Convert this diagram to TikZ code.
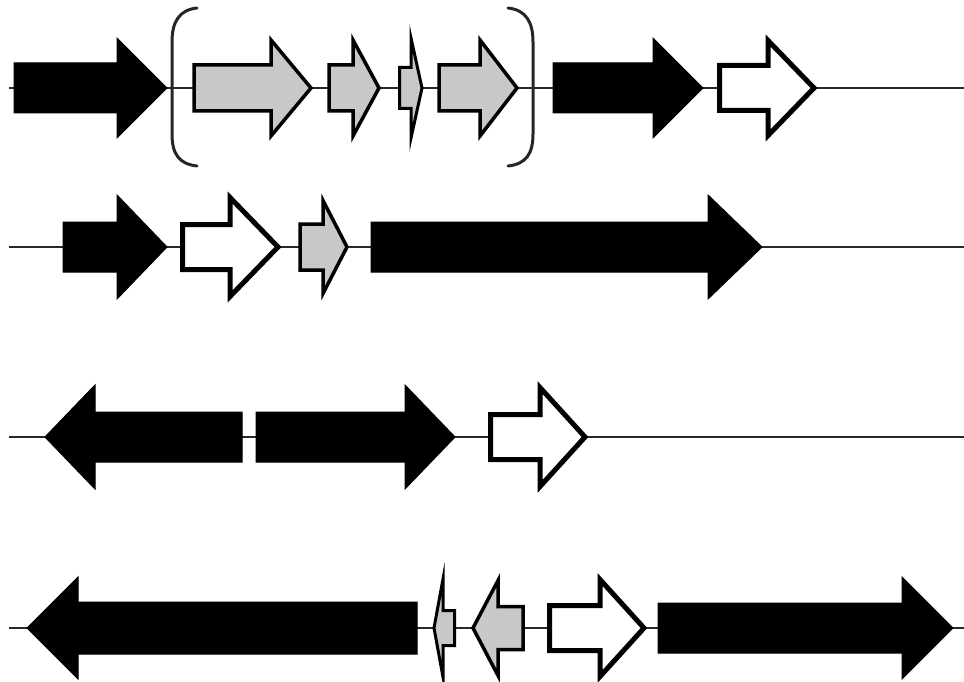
\documentclass[tikz,border=0pt]{standalone}
\usetikzlibrary{calc}
\definecolor{genegray}{RGB}{200,200,200}
\definecolor{backbone}{RGB}{40,40,40}
\tikzset{
  blk/.style={fill=black,draw=black,line width=1pt,line join=miter},
  wht/.style={fill=white,draw=black,line width=5pt,line join=miter},
  gry/.style={fill=genegray,draw=black,line width=3.5pt,line join=miter},
  gryspike/.style={fill=genegray,draw=black,line width=3pt,line join=miter,miter limit=12},
  bbone/.style={draw=backbone,line width=2.5pt},
  brack/.style={draw=black!85,line width=3pt,line cap=round}
}
% #1 body end, #2 head base, #3 tip, #4 y, #5 body half-height, #6 head half-height, #7 style
\newcommand\genearrow[7]{%
  \path[#7] (#1,#4-#5) -- (#2,#4-#5) -- (#2,#4-#6) -- (#3,#4) -- (#2,#4+#6) -- (#2,#4+#5) -- (#1,#4+#5) -- cycle;}
\begin{document}
\begin{tikzpicture}[x=1pt,y=-1pt]
\useasboundingbox (0,0) rectangle (964,682);
% backbones
\coordinate (r1s) at (9,88);  \coordinate (r1e) at (964,88);
\coordinate (r2s) at (9,247); \coordinate (r2e) at (964,247);
\coordinate (r3s) at (9,437); \coordinate (r3e) at (964,437);
\coordinate (r4s) at (9,628); \coordinate (r4e) at (964,628);
\draw[bbone] (r1s) -- (r1e);
\draw[bbone] (r2s) -- (r2e);
\draw[bbone] (r3s) -- (r3e);
\draw[bbone] (r4s) -- (r4e);
% row 1
\genearrow{14}{117}{167}{88}{25}{50}{blk}
\genearrow{194}{271}{311}{88}{23}{48}{gry}
\genearrow{329}{353}{379}{88}{23}{48}{gry}
\genearrow{399.5}{411}{422}{88}{20.5}{50}{gryspike}
\genearrow{439}{480}{517}{88}{23}{48}{gry}
\genearrow{553}{653}{703}{88}{25}{50}{blk}
\genearrow{719.5}{768}{814}{88}{22.5}{47.5}{wht}
% brackets
\draw[brack] (197,8) .. controls (179,10) and (172,22) .. (172,42) -- (172,134) .. controls (172,154) and (179,164) .. (197,166);
\draw[brack] (508,8) .. controls (526,10) and (533,22) .. (533,42) -- (533,134) .. controls (533,154) and (526,164) .. (508,166);
% row 2
\genearrow{63}{117}{167}{247}{25}{52}{blk}
\genearrow{182.5}{230}{278}{247}{22.5}{49.5}{wht}
\genearrow{300}{323}{347}{247}{23}{46.5}{gry}
\genearrow{371}{708}{762}{247}{25}{52}{blk}
% row 3
\genearrow{242}{95}{45}{437}{25}{52}{blk}
\genearrow{256}{405}{455}{437}{25}{52}{blk}
\genearrow{490.5}{540}{585}{437}{22.5}{49.5}{wht}
% row 4
\genearrow{417}{78}{27}{628}{26}{51}{blk}
\genearrow{454.5}{443}{434}{628}{17.5}{49}{gryspike}
\genearrow{523}{498}{473}{628}{21.5}{47.5}{gry}
\genearrow{549.5}{600}{644}{628}{22.5}{48.5}{wht}
\genearrow{658}{902}{953}{628}{25}{51}{blk}
\end{tikzpicture}
\end{document}
